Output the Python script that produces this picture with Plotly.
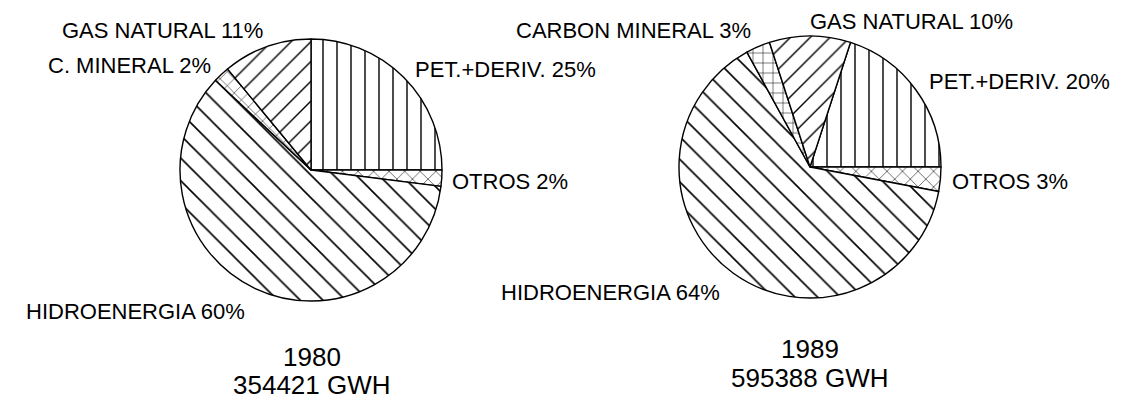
"""Generacion de electricidad por fuente, 1980 vs 1989 (pies con tramas)."""

import plotly.graph_objects as go

# la pagina tiene 8px de margen en el body: la figura ocupa el resto de 1135x400
OFF = 8
W, H = 1135 - OFF, 400 - OFF

# orden: en sentido horario desde el borde de PET.+DERIV.
labels_1980 = ["PET.+DERIV.", "OTROS", "HIDROENERGIA", "C. MINERAL", "GAS NATURAL"]
values_1980 = [25, 2, 60, 2, 11]
labels_1989 = ["PET.+DERIV.", "OTROS", "HIDROENERGIA", "CARBON MINERAL", "GAS NATURAL"]
values_1989 = [20, 3, 64, 3, 10]

years = [1980, 1989]
totals_gwh = [354421, 595388]

shapes_1980 = ["|", "x", "\\", "x", "/"]
shapes_1989 = ["|", "x", "\\", "+", "/"]
sizes = [14, 11, 16, 10, 14]

FONT = "Liberation Sans, Arial, sans-serif"


def px(x):
    return (x - OFF) / W


def py(y):
    return 1 - (y - OFF) / H


def pie(values, labels, shapes, cx, cy, r, rotation):
    return go.Pie(
        values=values,
        labels=labels,
        sort=False,
        direction="clockwise",
        rotation=rotation,
        textinfo="none",
        hoverinfo="label+percent",
        showlegend=False,
        domain=dict(x=[px(cx - r), px(cx + r)], y=[py(cy + r), py(cy - r)]),
        marker=dict(
            colors=["white"] * len(values),
            line=dict(color="black", width=1.4),
            pattern=dict(
                shape=shapes,
                fgcolor="black",
                fgopacity=1,
                bgcolor="white",
                size=sizes,
                solidity=0.1,
                fillmode="overlay",
            ),
        ),
    )


fig = go.Figure()
fig.add_trace(pie(values_1980, labels_1980, shapes_1980, 311, 170, 131, 0))
fig.add_trace(pie(values_1989, labels_1989, shapes_1989, 810, 167, 131, 18))

# (indice, x, y, xanchor)
pos_1980 = [(0, 413, 69, "left"), (1, 450, 181, "left"), (2, 247, 311, "right"),
            (3, 213, 65, "right"), (4, 265, 31, "right")]
pos_1989 = [(0, 927, 82, "left"), (1, 950, 181, "left"), (2, 722, 292, "right"),
            (3, 753, 31, "right"), (4, 808, 22, "left")]

annotations = []
for labels, values, pos in [(labels_1980, values_1980, pos_1980),
                            (labels_1989, values_1989, pos_1989)]:
    for i, x, y, anchor in pos:
        annotations.append(dict(
            text=f"{labels[i]} {values[i]}%",
            x=px(x), y=py(y), xref="paper", yref="paper",
            xanchor=anchor, yanchor="middle", showarrow=False,
            font=dict(size=22, color="black", family=FONT),
        ))

for year, total, cx, y1, y2 in [(years[0], totals_gwh[0], 312, 357, 385),
                                (years[1], totals_gwh[1], 810, 349, 378)]:
    for txt, y in [(str(year), y1), (f"{total} GWH", y2)]:
        annotations.append(dict(
            text=txt, x=px(cx), y=py(y), xref="paper", yref="paper",
            xanchor="center", yanchor="middle", showarrow=False,
            font=dict(size=26, color="black", family=FONT),
        ))

fig.update_layout(
    width=W,
    height=H,
    margin=dict(t=0, b=0, l=0, r=0),
    paper_bgcolor="white",
    plot_bgcolor="white",
    annotations=annotations,
)

fig.write_html("out.html")
